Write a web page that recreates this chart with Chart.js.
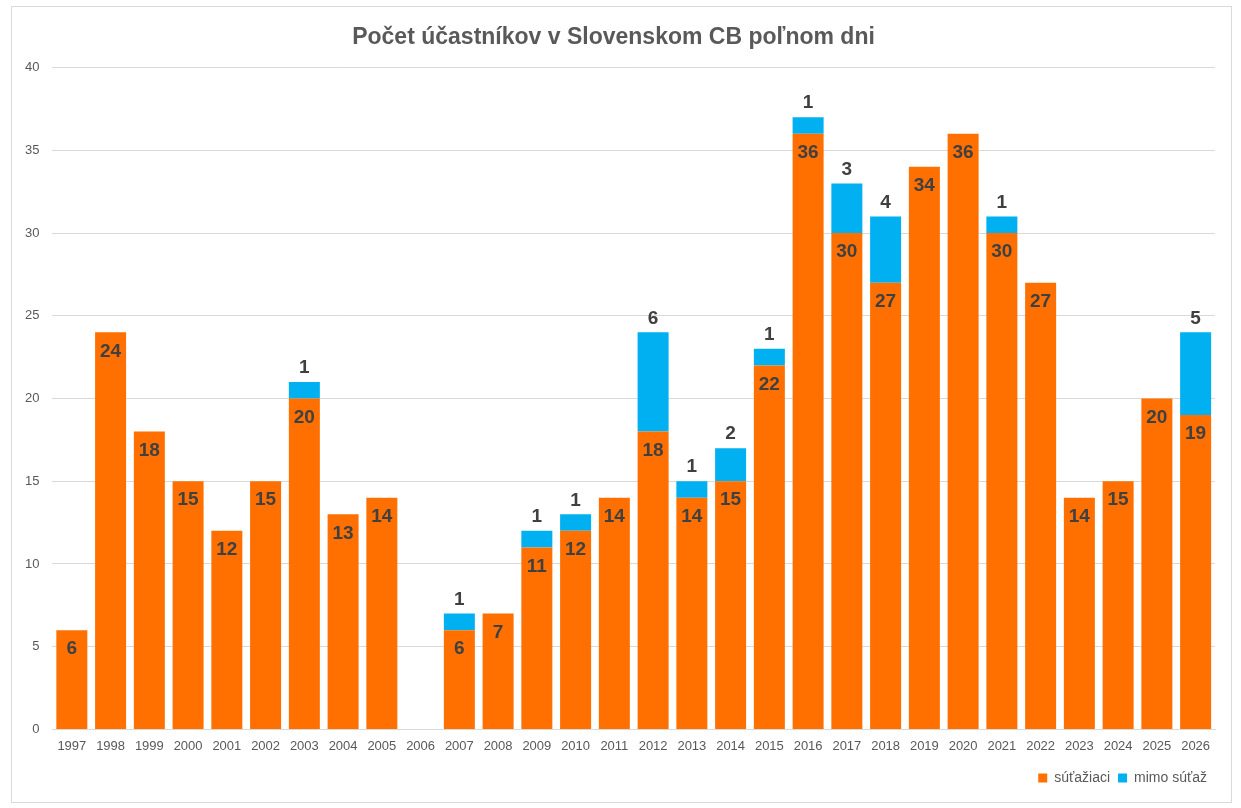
<!DOCTYPE html>
<html>
<head>
<meta charset="utf-8">
<script src="https://cdn.jsdelivr.net/npm/chart.js@4"></script>
<style>
  body { margin: 0; background: #fff; }
  #frame {
    position: absolute; left: 11px; top: 6px;
    width: 1219px; height: 795px;
    border: 1px solid #d9d9d9; background: #fff;
  }
</style>
</head>
<body>
<div id="frame"><canvas id="chart"></canvas></div>
<script>
// Years on the x axis
const years = ['1997', '1998', '1999', '2000', '2001', '2002', '2003', '2004', '2005', '2006',
               '2007', '2008', '2009', '2010', '2011', '2012', '2013', '2014', '2015', '2016',
               '2017', '2018', '2019', '2020', '2021', '2022', '2023', '2024', '2025', '2026'];

// Competing participants
const competing = [6, 24, 18, 15, 12, 15, 20, 13, 14, null,
                   6, 7, 11, 12, 14, 18, 14, 15, 22, 36,
                   30, 27, 34, 36, 30, 27, 14, 15, 20, 19];

// Non-competing participants
const outside = [null, null, null, null, null, null, 1, null, null, null,
                 1, null, 1, 1, null, 6, 1, 2, 1, 1,
                 3, 4, null, null, 1, null, null, null, null, 5];

const textColor = '#595959';

// Draws the value labels: inside the top for orange, above the stack for blue
const valueLabels = {
    id: 'valueLabels',
    afterDatasetsDraw(chart) {
        const ctx = chart.ctx;
        ctx.save();
        ctx.font = 'bold 19px "Liberation Sans", Arial, sans-serif';
        ctx.fillStyle = '#404040';
        ctx.textAlign = 'center';
        ctx.textBaseline = 'middle';
        chart.data.datasets.forEach((ds, i) => {
            const meta = chart.getDatasetMeta(i);
            meta.data.forEach((bar, j) => {
                const v = ds.data[j];
                if (v == null || v === 0) return;
                const y = i === 0 ? bar.y + 19 : bar.y - 14;
                ctx.fillText(String(v), bar.x, y);
            });
        });
        ctx.restore();
    }
};

const ctx = document.getElementById('chart').getContext('2d');
new Chart(ctx, {
    type: 'bar',
    data: {
        labels: years,
        datasets: [{
            label: 'súťažiaci',
            data: competing,
            backgroundColor: '#FF7000',
            barPercentage: 0.8,
            categoryPercentage: 1
        }, {
            label: 'mimo súťaž',
            data: outside,
            backgroundColor: '#00B0F0',
            barPercentage: 0.8,
            categoryPercentage: 1
        }]
    },
    plugins: [valueLabels],
    options: {
        responsive: true,
        maintainAspectRatio: false,
        animation: false,
        layout: { padding: { left: 0, right: 16, top: 0, bottom: 7 } },
        plugins: {
            title: {
                display: true,
                text: 'Počet účastníkov v Slovenskom CB poľnom dni',
                color: textColor,
                font: { family: '"Liberation Sans", Arial, sans-serif', size: 23, weight: 'bold' },
                padding: { top: 17, bottom: 16 }
            },
            legend: {
                position: 'bottom',
                align: 'end',
                labels: {
                    color: textColor,
                    boxWidth: 9,
                    boxHeight: 9,
                    padding: 8,
                    font: { family: '"Liberation Sans", Arial, sans-serif', size: 14 }
                }
            },
            tooltip: { enabled: false }
        },
        scales: {
            x: {
                stacked: true,
                grid: { display: false, drawTicks: false },
                border: { color: '#d9d9d9' },
                ticks: {
                    color: textColor,
                    padding: 9,
                    maxRotation: 0,
                    autoSkip: false,
                    font: { family: '"Liberation Sans", Arial, sans-serif', size: 13 }
                }
            },
            y: {
                stacked: true,
                min: 0,
                max: 40,
                grid: { color: '#d9d9d9', drawTicks: false },
                border: { display: false },
                ticks: {
                    stepSize: 5,
                    color: textColor,
                    padding: 13,
                    font: { family: '"Liberation Sans", Arial, sans-serif', size: 13 }
                }
            }
        }
    }
});
</script>
</body>
</html>
